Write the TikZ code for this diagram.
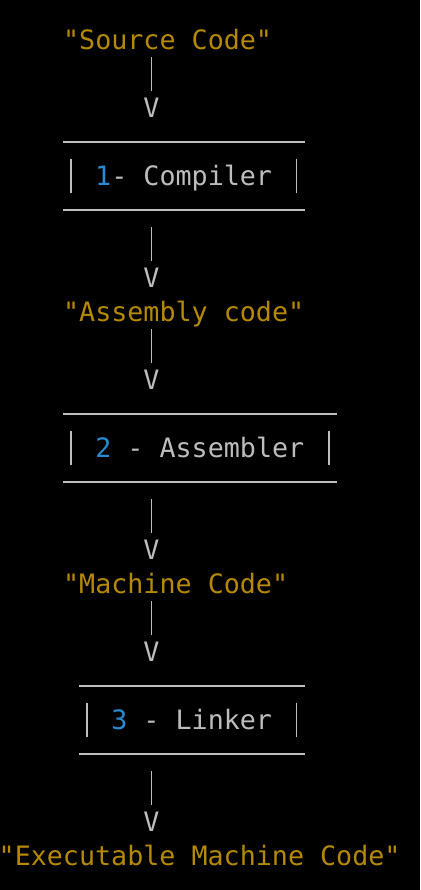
\documentclass[tikz,border=0pt]{standalone}
\usepackage{fontspec}
\usepackage{tikz}
\usetikzlibrary{positioning}
\usetikzlibrary{calc}
\newfontfamily\termfont{DejaVu Sans Mono}
\definecolor{codegold}{HTML}{B58900}
\definecolor{stepblue}{HTML}{268BD2}
\definecolor{termgray}{HTML}{BDBDBD}
\tikzset{%
  term/.style = {font={\termfont\fontsize{26.7pt}{34pt}\selectfont},
        inner sep=0pt, text height=19.5pt, text depth=0pt,
        minimum height=34pt},
  codetext/.style = {term, text=codegold, anchor=west},
  vmark/.style = {term, text=termgray},
  stage/.style = {term, text=termgray, minimum height=68pt},
  bar/.style = {draw=termgray, line width=1.5pt},
  hline/.style = {draw=termgray, line width=2pt}
}

\begin{document}
\begin{tikzpicture}[x=16.1pt, y=-34pt]
    \fill[black] (0.093,-1.176) rectangle (26.18,25);
    \useasboundingbox (0.093,-1.176) rectangle (26.18,25);

    % texts and stages, one row = one line of the terminal
    \node[codetext] (src) at (4,0) {"Source Code"};
    \node[vmark] (v1) at (9.5,2) {V};
    \node[stage, minimum width=241.5pt] (c1) at (11.5,4)
        {\textcolor{stepblue}{1}- Compiler};
    \node[vmark] (v2) at (9.5,7) {V};
    \node[codetext] (asm) at (4,8) {"Assembly code"};
    \node[vmark] (v3) at (9.5,10) {V};
    \node[stage, minimum width=273.7pt] (c2) at (12.5,12)
        {\textcolor{stepblue}{2} - Assembler};
    \node[vmark] (v4) at (9.5,15) {V};
    \node[codetext] (mach) at (4,16) {"Machine Code"};
    \node[vmark] (v5) at (9.5,18) {V};
    \node[stage, minimum width=225.4pt] (c3) at (12,20)
        {\textcolor{stepblue}{3} - Linker};
    \node[vmark] (v6) at (9.5,23) {V};
    \node[codetext] (exe) at (0,24) {"Executable Machine Code"};

    % frames of the stages
    \foreach \s in {c1,c2,c3} {
        \draw[hline] (\s.north west) -- (\s.north east);
        \draw[hline] (\s.south west) -- (\s.south east);
        \draw[bar] ([xshift=8.05pt,yshift=-17pt]\s.north west)
            -- ([xshift=8.05pt,yshift=17pt]\s.south west);
        \draw[bar] ([xshift=-8.05pt,yshift=-17pt]\s.north east)
            -- ([xshift=-8.05pt,yshift=17pt]\s.south east);
    }

    % connectors
    \draw[bar] (src.south -| v1.north) -- (v1.north);
    \draw[bar, shorten <=17pt] (c1.south -| v2.north) -- (v2.north);
    \draw[bar] (asm.south -| v3.north) -- (v3.north);
    \draw[bar, shorten <=17pt] (c2.south -| v4.north) -- (v4.north);
    \draw[bar] (mach.south -| v5.north) -- (v5.north);
    \draw[bar, shorten <=17pt] (c3.south -| v6.north) -- (v6.north);
\end{tikzpicture}
\end{document}
